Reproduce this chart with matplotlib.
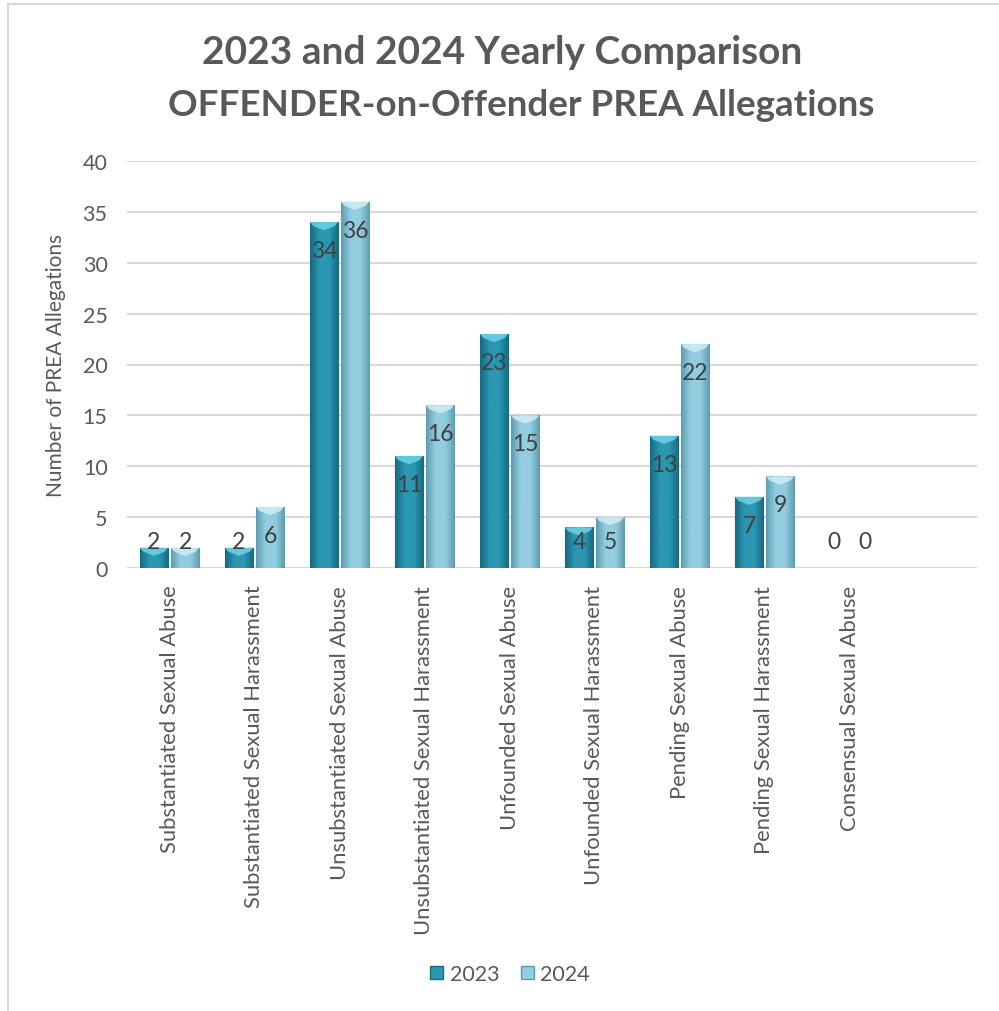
import matplotlib.pyplot as plt
import numpy as np
from matplotlib.colors import LinearSegmentedColormap
from matplotlib.patches import Polygon
from matplotlib.lines import Line2D

categories = [
    "Substantiated Sexual Abuse",
    "Substantiated Sexual Harassment",
    "Unsubstantiated Sexual Abuse",
    "Unsubstantiated Sexual Harassment",
    "Unfounded Sexual Abuse",
    "Unfounded Sexual Harassment",
    "Pending Sexual Abuse",
    "Pending Sexual Harassment",
    "Consensual Sexual Abuse",
]
vals_2023 = [2, 2, 34, 11, 23, 4, 13, 7, 0]
vals_2024 = [2, 6, 36, 16, 15, 5, 22, 9, 0]

TEXT = "#595959"
plt.rcParams['font.family'] = ['Lato', 'DejaVu Sans']

fig = plt.figure(figsize=(9.99, 10.12), dpi=100)
ax = fig.add_axes([127 / 999, 1 - 569 / 1012, 850 / 999, 407 / 1012])

# (edge, mid, top cap) colours per series
styles = {
    "2023": ("#176a82", "#2b97b2", "#6fd3e6"),
    "2024": ("#5f9bb0", "#93cde0", "#d0eef5"),
}

x = np.arange(len(categories))
w = 0.33
gap = 0.035


def bevel_bar(bar, edge, mid, cap):
    x0, w_ = bar.get_x(), bar.get_width()
    h = bar.get_height()
    if h <= 0:
        return
    cmap = LinearSegmentedColormap.from_list("g", [edge, mid, mid, edge])
    grad = np.linspace(0, 1, 64).reshape(1, -1)
    im = ax.imshow(grad, cmap=cmap, aspect="auto", extent=(x0, x0 + w_, 0, h),
                   zorder=2, interpolation="bicubic")
    im.set_clip_path(bar)
    d = min(0.8, h * 0.45)
    dx = w_ * 0.12
    tri = Polygon([(x0, h), (x0 + w_, h), (x0 + w_ - dx, h - d * 0.5),
                   (x0 + w_ / 2, h - d), (x0 + dx, h - d * 0.5)],
                  closed=True, facecolor=cap, edgecolor="none", alpha=0.85, zorder=3)
    ax.add_patch(tri)


for vals, off, key in [(vals_2023, -(w + gap) / 2, "2023"), (vals_2024, (w + gap) / 2, "2024")]:
    edge, mid, cap = styles[key]
    bars = ax.bar(x + off, vals, width=w, color=mid, edgecolor=edge, linewidth=0.8,
                  zorder=2, label=key)
    for b, v in zip(bars, vals):
        bevel_bar(b, edge, mid, cap)
        ax.text(b.get_x() + b.get_width() / 2, max(v - 2.8, 2.6), str(v),
                ha="center", va="center", fontsize=16.5, color="#404040", zorder=4)

ax.set_xlim(-0.5, 9.5)
ax.set_ylim(0, 40)
ax.set_yticks(range(0, 41, 5))
ax.yaxis.grid(True, color="#d9d9d9", linewidth=1.5, zorder=0)
ax.set_axisbelow(True)
for s in ax.spines.values():
    s.set_visible(False)
ax.axhline(0, color="#d9d9d9", linewidth=1.5, zorder=1)
ax.tick_params(axis="both", length=0, colors=TEXT, labelsize=15.5)
ax.tick_params(axis="y", pad=14)
ax.set_xticks(x)
ax.set_xticklabels(categories, rotation=90, fontsize=15.8, color=TEXT)
ax.tick_params(axis="x", pad=12)
ax.set_ylabel("Number of PREA Allegations", fontsize=15, color=TEXT, labelpad=12)

fig.text(502 / 999, 1 - 52 / 1012, "2023 and 2024 Yearly Comparison", ha="center", va="center",
         fontsize=28, fontweight="bold", color=TEXT)
fig.text(521 / 999, 1 - 105 / 1012, "OFFENDER-on-Offender PREA Allegations", ha="center",
         va="center", fontsize=26.5, fontweight="bold", color=TEXT)

handles = [plt.Rectangle((0, 0), 1, 1, facecolor=styles[k][1], edgecolor=styles[k][0])
           for k in ("2023", "2024")]
fig.legend(handles, ["2023", "2024"], loc="center", bbox_to_anchor=(510 / 999, 1 - 975 / 1012),
           ncol=2, frameon=False, fontsize=15.5, handlelength=0.6, handleheight=0.6,
           handletextpad=0.3, columnspacing=1.0, labelcolor=TEXT)

fig.add_artist(Line2D([8 / 999, 8 / 999], [0, 1 - 5 / 1012], transform=fig.transFigure,
                      color="#d9d9d9", linewidth=1.5))
fig.add_artist(Line2D([8 / 999, 1], [1 - 5 / 1012, 1 - 5 / 1012], transform=fig.transFigure,
                      color="#d9d9d9", linewidth=1.5))

fig.savefig("out.png", dpi=100)
